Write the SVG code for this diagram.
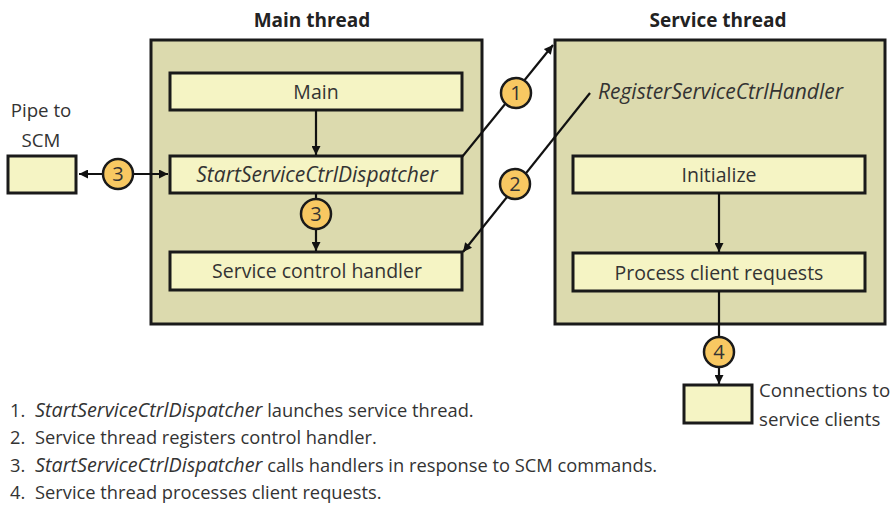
<svg xmlns="http://www.w3.org/2000/svg" width="894" height="509" viewBox="0 0 894 509">
<defs>
<marker id="ah" viewBox="0 0 10 10" refX="10" refY="5" markerWidth="10" markerHeight="9" markerUnits="userSpaceOnUse" orient="auto-start-reverse">
<path d="M0,0 L10,5 L0,10 z" fill="#111"/>
</marker>
<style>
.outer{fill:#dcdaae;stroke:#1a1a1a;stroke-width:3}
.inner{fill:#f5f4c4;stroke:#1a1a1a;stroke-width:3}
.badge{fill:#f8c862;stroke:#1a1a1a;stroke-width:2.5}
.t{font-family:"Open Sans","Noto Sans",sans-serif;fill:#333;font-size:19.5px}
.i{font-style:italic;font-size:21px}
.b{font-weight:bold;font-size:19px;fill:#222}
.n{font-size:20px;text-anchor:middle}
.c{text-anchor:middle}
.lbl{font-size:18.7px}
.leg{font-size:18.3px}
.leg .i{font-size:19.8px}
.ln{stroke:#111;stroke-width:2.2;fill:none}
</style>
</defs>
<rect width="894" height="509" fill="#fff"/>
<text class="t b c" x="312" y="27">Main thread</text>
<text class="t b c" x="718" y="27">Service thread</text>
<g id="main-thread"><rect class="outer" x="151" y="40" width="331" height="284"/></g>
<g id="service-thread"><rect class="outer" x="555" y="40" width="330" height="284"/></g>
<g id="main"><rect class="inner" x="170" y="73" width="292" height="37"/><text class="t c" x="316" y="99">Main</text></g>
<g id="dispatcher"><rect class="inner" x="170" y="156" width="292" height="37"/><text class="t c i" x="317" y="182">StartServiceCtrlDispatcher</text></g>
<g id="handler"><rect class="inner" x="170" y="252" width="292" height="38"/><text class="t c" x="317" y="278">Service control handler</text></g>
<g id="pipe"><rect class="inner" x="8" y="156" width="68" height="37"/><text class="t c lbl" x="41" y="117">Pipe to</text><text class="t c lbl" x="41" y="147">SCM</text></g>
<g id="register"><text class="t i" x="598" y="99">RegisterServiceCtrlHandler</text></g>
<g id="initialize"><rect class="inner" x="573" y="156" width="292" height="37"/><text class="t c" x="719" y="182">Initialize</text></g>
<g id="process"><rect class="inner" x="573" y="253" width="292" height="38"/><text class="t c" x="719" y="280">Process client requests</text></g>
<g id="clients"><rect class="inner" x="684" y="385" width="68" height="38"/><text class="t lbl" x="759" y="397">Connections to</text><text class="t lbl" x="759" y="426">service clients</text></g>
<g id="connectors">
<line class="ln" x1="316" y1="110" x2="316" y2="155" marker-end="url(#ah)"/>
<line class="ln" x1="79" y1="174" x2="168" y2="174" marker-start="url(#ah)" marker-end="url(#ah)"/>
<line class="ln" x1="316" y1="193" x2="316" y2="251" marker-end="url(#ah)"/>
<line class="ln" x1="462" y1="157" x2="553" y2="45" marker-end="url(#ah)"/>
<line class="ln" x1="590" y1="93" x2="463" y2="252" marker-end="url(#ah)"/>
<line class="ln" x1="719" y1="193" x2="719" y2="252" marker-end="url(#ah)"/>
<line class="ln" x1="719" y1="291" x2="719" y2="384" marker-end="url(#ah)"/>
</g>
<g id="badges">
<circle class="badge" cx="118" cy="174" r="15"/><text class="t n" x="118" y="181">3</text>
<circle class="badge" cx="316" cy="214" r="15"/><text class="t n" x="316" y="221">3</text>
<circle class="badge" cx="516" cy="93" r="15"/><text class="t n" x="516" y="100">1</text>
<circle class="badge" cx="515" cy="184" r="15"/><text class="t n" x="515" y="191">2</text>
<circle class="badge" cx="719" cy="352" r="15"/><text class="t n" x="719" y="359">4</text>
</g>
<g id="legend">
<text class="t leg" x="10" y="417">1.</text><text class="t leg" x="35" y="417"><tspan class="i">StartServiceCtrlDispatcher</tspan> launches service thread.</text>
<text class="t leg" x="10" y="444">2.</text><text class="t leg" x="35" y="444">Service thread registers control handler.</text>
<text class="t leg" x="10" y="472">3.</text><text class="t leg" x="35" y="472"><tspan class="i">StartServiceCtrlDispatcher</tspan> calls handlers in response to SCM commands.</text>
<text class="t leg" x="10" y="499">4.</text><text class="t leg" x="35" y="499">Service thread processes client requests.</text>
</g>
</svg>
